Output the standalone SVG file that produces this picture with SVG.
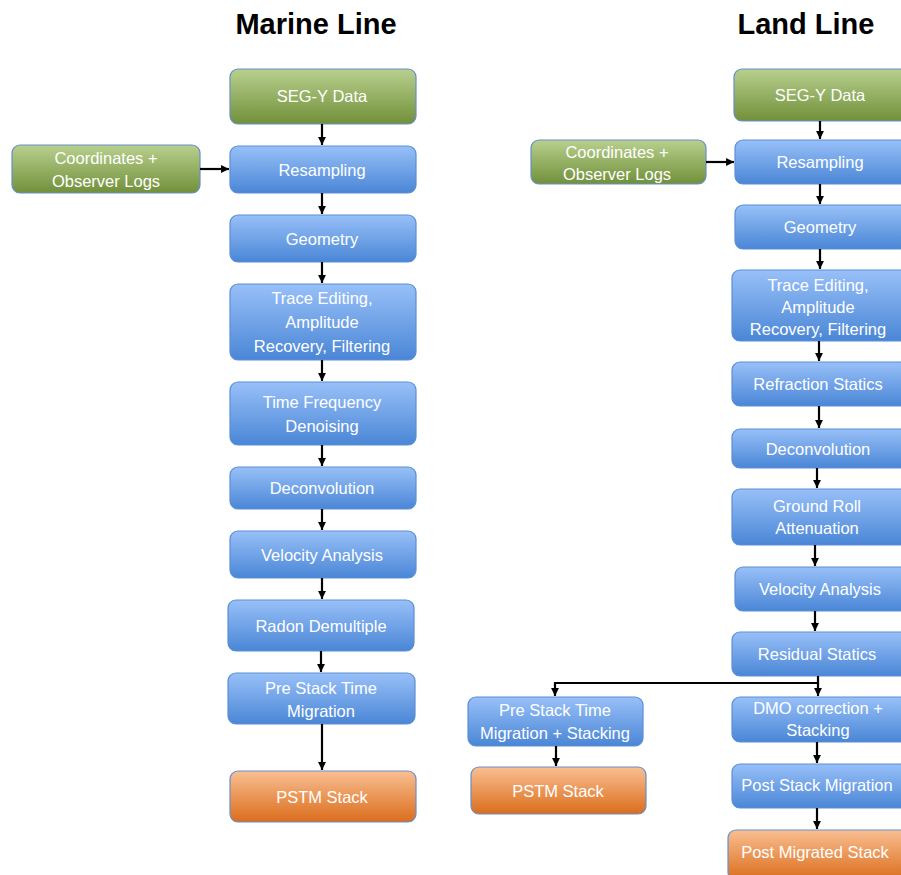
<svg xmlns="http://www.w3.org/2000/svg" width="901" height="875" viewBox="0 0 901 875">
<defs>
<linearGradient id="gb" x1="0" y1="0" x2="0" y2="1"><stop offset="0" stop-color="#98c0f8"/><stop offset="1" stop-color="#4a86d6"/></linearGradient>
<linearGradient id="gg" x1="0" y1="0" x2="0" y2="1"><stop offset="0" stop-color="#b8d08e"/><stop offset="1" stop-color="#71903a"/></linearGradient>
<linearGradient id="go" x1="0" y1="0" x2="0" y2="1"><stop offset="0" stop-color="#f9bf92"/><stop offset="1" stop-color="#db6d1c"/></linearGradient>
<marker id="ah" viewBox="0 0 10 10" refX="10" refY="5" markerWidth="3.6" markerHeight="3.6" orient="auto"><path d="M0,0 L10,5 L0,10 z" fill="#000"/></marker>
</defs>
<style>
.b{fill:url(#gb);stroke:#5b8fd4;stroke-width:1.2}
.g{fill:url(#gg);stroke:#6a8ec8;stroke-width:1.2}
.o{fill:url(#go);stroke:#6a8ec8;stroke-width:1.2}
text{font-family:"Liberation Sans",Arial,sans-serif;font-size:16.5px;fill:#fff;text-anchor:middle}
.t{font-size:29px;font-weight:bold;fill:#000}
.c line,.c path{stroke:#000;stroke-width:2.2;fill:none;marker-end:url(#ah)}
</style>
<text class="t" x="316" y="34">Marine Line</text>
<text class="t" x="806" y="34">Land Line</text>

<g id="m-segy"><rect class="g" x="230" y="69" width="186" height="55" rx="8"/><text x="322" y="102">SEG-Y Data</text></g>
<g id="m-coord"><rect class="g" x="12" y="145" width="188" height="48" rx="8"/><text x="106" y="164">Coordinates +</text><text x="106" y="187">Observer Logs</text></g>
<g id="m-resamp"><rect class="b" x="230" y="146" width="186" height="47" rx="8"/><text x="322" y="176">Resampling</text></g>
<g id="m-geom"><rect class="b" x="230" y="215" width="186" height="47" rx="8"/><text x="322" y="245">Geometry</text></g>
<g id="m-trace"><rect class="b" x="230" y="284" width="186" height="76" rx="8"/><text x="322" y="304">Trace Editing,</text><text x="322" y="328">Amplitude</text><text x="322" y="352">Recovery, Filtering</text></g>
<g id="m-tfd"><rect class="b" x="230" y="382" width="186" height="63" rx="8"/><text x="322" y="408">Time Frequency</text><text x="322" y="432">Denoising</text></g>
<g id="m-decon"><rect class="b" x="230" y="467" width="186" height="42" rx="8"/><text x="322" y="494">Deconvolution</text></g>
<g id="m-vel"><rect class="b" x="230" y="531" width="186" height="47" rx="8"/><text x="322" y="561">Velocity Analysis</text></g>
<g id="m-radon"><rect class="b" x="228" y="600" width="186" height="51" rx="8"/><text x="321" y="632">Radon Demultiple</text></g>
<g id="m-pstm"><rect class="b" x="228" y="673" width="187" height="51" rx="8"/><text x="321" y="694">Pre Stack Time</text><text x="321" y="717">Migration</text></g>
<g id="m-stack"><rect class="o" x="230" y="771" width="186" height="51" rx="8"/><text x="322" y="803">PSTM Stack</text></g>

<g id="l-segy"><rect class="g" x="734" y="69" width="180" height="52" rx="8"/><text x="820" y="101">SEG-Y Data</text></g>
<g id="l-coord"><rect class="g" x="531" y="140" width="175" height="44" rx="8"/><text x="617" y="158">Coordinates +</text><text x="617" y="180">Observer Logs</text></g>
<g id="l-resamp"><rect class="b" x="735" y="140" width="180" height="44" rx="8"/><text x="820" y="168">Resampling</text></g>
<g id="l-geom"><rect class="b" x="735" y="205" width="180" height="44" rx="8"/><text x="820" y="233">Geometry</text></g>
<g id="l-trace"><rect class="b" x="732" y="270" width="180" height="71" rx="8"/><text x="818" y="291">Trace Editing,</text><text x="818" y="313">Amplitude</text><text x="818" y="335">Recovery, Filtering</text></g>
<g id="l-refr"><rect class="b" x="732" y="362" width="180" height="44" rx="8"/><text x="818" y="390">Refraction Statics</text></g>
<g id="l-decon"><rect class="b" x="732" y="429" width="180" height="39" rx="8"/><text x="818" y="455">Deconvolution</text></g>
<g id="l-ground"><rect class="b" x="732" y="489" width="180" height="56" rx="8"/><text x="817" y="512">Ground Roll</text><text x="817" y="534">Attenuation</text></g>
<g id="l-vel"><rect class="b" x="735" y="567" width="180" height="44" rx="8"/><text x="820" y="595">Velocity Analysis</text></g>
<g id="l-resid"><rect class="b" x="732" y="632" width="180" height="44" rx="8"/><text x="817" y="660">Residual Statics</text></g>
<g id="l-pstm"><rect class="b" x="468" y="697" width="175" height="49" rx="8"/><text x="555" y="716">Pre Stack Time</text><text x="555" y="739">Migration + Stacking</text></g>
<g id="l-pstmstack"><rect class="o" x="471" y="767" width="175" height="47" rx="8"/><text x="558" y="797">PSTM Stack</text></g>
<g id="l-dmo"><rect class="b" x="732" y="697" width="180" height="45" rx="8"/><text x="818" y="714">DMO correction +</text><text x="818" y="736">Stacking</text></g>
<g id="l-post"><rect class="b" x="732" y="764" width="180" height="44" rx="8"/><text x="817" y="791">Post Stack Migration</text></g>
<g id="l-pms"><rect class="o" x="728" y="830" width="184" height="50" rx="8"/><text x="815" y="858">Post Migrated Stack</text></g>

<g class="c" id="connectors">
<line x1="322" y1="124" x2="322" y2="145"/>
<line x1="200" y1="169" x2="229" y2="169"/>
<line x1="322" y1="193" x2="322" y2="214"/>
<line x1="322" y1="262" x2="322" y2="283"/>
<line x1="322" y1="360" x2="322" y2="381"/>
<line x1="322" y1="445" x2="322" y2="466"/>
<line x1="322" y1="509" x2="322" y2="530"/>
<line x1="322" y1="578" x2="322" y2="599"/>
<line x1="321" y1="651" x2="321" y2="672"/>
<line x1="322" y1="724" x2="322" y2="770"/>

<line x1="820" y1="121" x2="820" y2="139"/>
<line x1="706" y1="162" x2="734" y2="162"/>
<line x1="820" y1="184" x2="820" y2="204"/>
<line x1="820" y1="249" x2="820" y2="269"/>
<line x1="819" y1="341" x2="819" y2="361"/>
<line x1="819" y1="406" x2="819" y2="428"/>
<line x1="817" y1="468" x2="817" y2="488"/>
<line x1="815" y1="545" x2="815" y2="566"/>
<line x1="815" y1="611" x2="815" y2="631"/>
<path d="M818,676 V683 H555 V696"/>
<line x1="818" y1="683" x2="818" y2="696"/>
<line x1="556" y1="746" x2="556" y2="766"/>
<line x1="817" y1="742" x2="817" y2="763"/>
<line x1="817" y1="808" x2="817" y2="829"/>
</g>
</svg>
